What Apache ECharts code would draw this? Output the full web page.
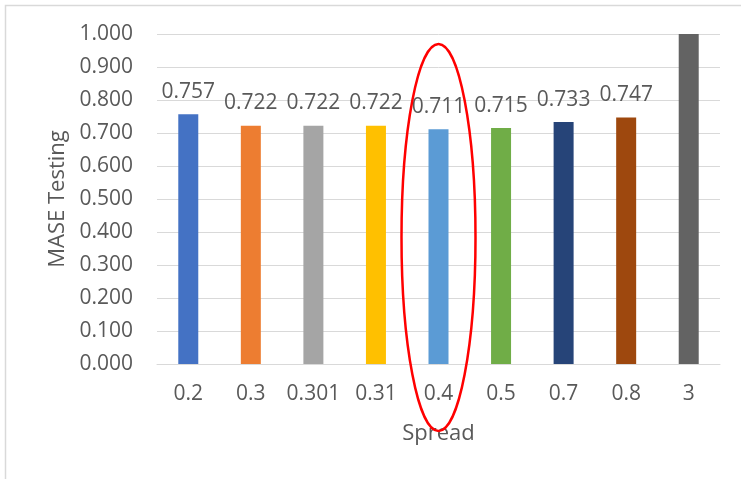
<!DOCTYPE html>
<html>
<head>
<meta charset="utf-8">
<script src="https://cdn.jsdelivr.net/npm/echarts@6/dist/echarts.min.js"></script>
<style>
  html, body { margin: 0; padding: 0; background: #fff; }
  #chart { width: 741px; height: 479px; }
</style>
</head>
<body>
<div id="chart"></div>
<script>
// Spread settings and resulting MASE on the test set
const spreads = ['0.2', '0.3', '0.301', '0.31', '0.4', '0.5', '0.7', '0.8', '3'];
const maseTesting = [0.757, 0.722, 0.722, 0.722, 0.711, 0.715, 0.733, 0.747, 1.0];
const showLabel = [true, true, true, true, true, true, true, true, false];
const barColors = ['#4472C4', '#ED7D31', '#A5A5A5', '#FFC000', '#5B9BD5',
                   '#70AD47', '#264478', '#9E480E', '#636363'];
const highlighted = '0.4';

const font = '"Open Sans", "Segoe UI", sans-serif';
const textColor = '#595959';

const chart = echarts.init(document.getElementById('chart'));

chart.setOption({
  animation: false,
  grid: { left: 157, right: 21, top: 34, bottom: 115 },
  xAxis: {
    type: 'category',
    data: spreads,
    name: 'Spread',
    nameLocation: 'middle',
    nameGap: 59,
    nameTextStyle: { fontFamily: font, fontSize: 22, color: textColor },
    axisLine: { lineStyle: { color: '#D9D9D9', width: 1 } },
    axisTick: { show: false },
    axisLabel: { interval: 0, fontFamily: font, fontSize: 21, color: textColor, margin: 20 }
  },
  yAxis: {
    type: 'value',
    min: 0,
    max: 1,
    interval: 0.1,
    name: 'MASE Testing',
    nameLocation: 'middle',
    nameGap: 84,
    nameTextStyle: { fontFamily: font, fontSize: 22, color: textColor },
    axisLine: { show: false },
    axisTick: { show: false },
    splitLine: { lineStyle: { color: '#D9D9D9', width: 1 } },
    axisLabel: {
      fontFamily: font, fontSize: 21, color: textColor, margin: 24,
      formatter: v => v.toFixed(3)
    }
  },
  series: [{
    type: 'bar',
    barWidth: 20,
    data: maseTesting.map((v, i) => ({
      value: v,
      itemStyle: { color: barColors[i] },
      label: { show: showLabel[i] }
    })),
    label: {
      position: 'top',
      distance: 12,
      fontFamily: font,
      fontSize: 21,
      color: textColor,
      formatter: p => p.value.toFixed(3)
    }
  }]
});

// Outer frame and the ring marking the chosen spread
const cx = chart.convertToPixel({ xAxisIndex: 0 }, highlighted);
const cyTop = chart.convertToPixel({ yAxisIndex: 0 }, 0.97);
chart.setOption({
  graphic: [
    {
      type: 'rect',
      shape: { x: 5.5, y: 5.5, width: 760, height: 500 },
      style: { fill: 'none', stroke: '#D9D9D9', lineWidth: 1.5 },
      silent: true
    },
    {
      type: 'ellipse',
      shape: { cx: cx, cy: (cyTop + 431) / 2, rx: 37, ry: (431 - cyTop) / 2 },
      style: { fill: 'none', stroke: '#FF0000', lineWidth: 2.5 },
      z: 100,
      silent: true
    }
  ]
});
</script>
</body>
</html>
